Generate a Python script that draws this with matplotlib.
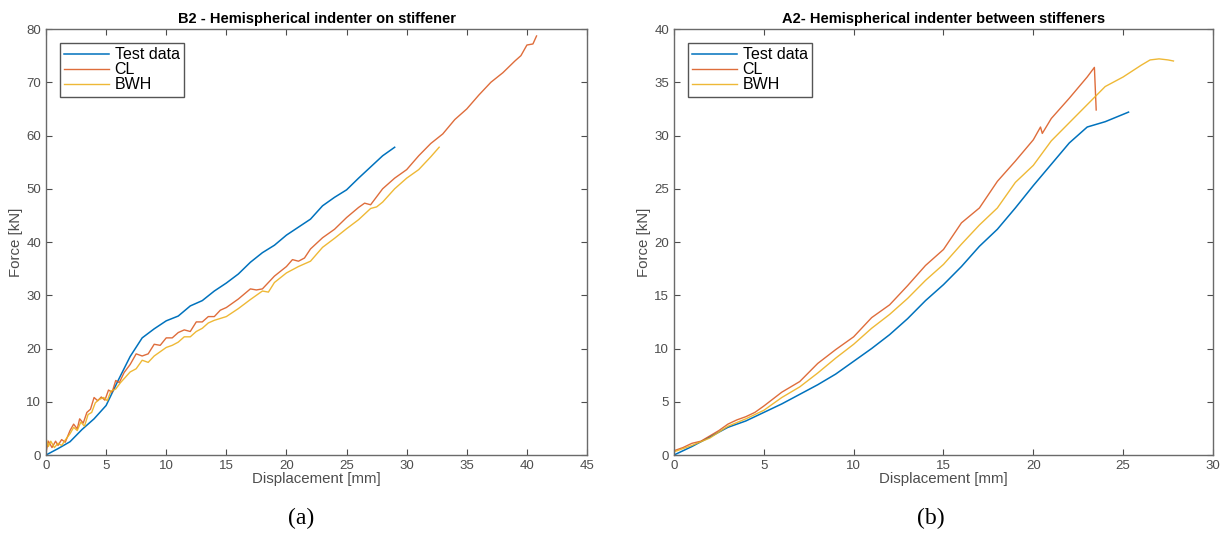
import numpy as np
import matplotlib.pyplot as plt

plt.rcParams['font.family'] = ['Liberation Sans', 'DejaVu Sans']

# B2 - indenter on stiffener
b2_test_x = [0, 1, 2, 3, 4, 5, 6, 7, 8, 9, 10, 11, 12, 13, 14, 15, 16, 17, 18, 19, 20,
             21, 22, 23, 24, 25, 26, 27, 28, 29]
b2_test_y = [0, 1.2, 2.5, 4.8, 6.8, 9.3, 14, 18.5, 22, 23.7, 25.2, 26.1, 28, 29, 30.8, 32.3,
             34, 36.2, 38, 39.4, 41.3, 42.8, 44.3, 46.8, 48.4, 49.8, 52, 54.1, 56.2, 57.8]

b2_cl_x = [0, 0.2, 0.5, 0.8, 1.0, 1.3, 1.6, 2.0, 2.3, 2.6, 2.8, 3.1, 3.4, 3.7, 4.0, 4.3,
           4.6, 4.9, 5.2, 5.5, 5.8, 6.1, 6.5, 7.0, 7.5, 8.0, 8.5, 9.0, 9.5, 10, 10.5, 11,
           11.5, 12, 12.5, 13, 13.5, 14, 14.5, 15, 16, 17, 17.5, 18, 19, 20, 20.5, 21,
           21.5, 22, 23, 24, 25, 26, 26.5, 27, 28, 29, 30, 31, 32, 33, 34, 35, 36, 37,
           38, 39, 39.5, 40, 40.5, 40.8]
b2_cl_y = [0.5, 2.6, 1.4, 2.6, 1.8, 2.9, 2.4, 4.6, 5.8, 4.9, 6.8, 6.0, 8.0, 8.6, 10.8, 10.2,
           10.9, 10.3, 12.2, 11.8, 14.0, 13.6, 15.5, 17.0, 19.0, 18.6, 19.0, 20.8, 20.6, 22.0,
           22.0, 23.0, 23.5, 23.2, 25.0, 25.0, 26.0, 26.0, 27.2, 27.7, 29.3, 31.2, 31.0, 31.2,
           33.6, 35.4, 36.7, 36.4, 37.0, 38.7, 40.8, 42.4, 44.6, 46.5, 47.3, 47.0, 50.0, 52.0,
           53.6, 56.2, 58.5, 60.3, 63.0, 65.0, 67.6, 70.0, 71.8, 74.0, 75.0, 77.0, 77.2, 78.7]

b2_bwh_x = [0, 0.2, 0.4, 0.7, 1.0, 1.3, 1.6, 2.0, 2.3, 2.6, 2.9, 3.2, 3.5, 3.8, 4.1, 4.4,
            4.8, 5.1, 5.4, 5.8, 6.2, 6.6, 7.0, 7.5, 8.0, 8.5, 9.0, 9.5, 10, 10.5, 11, 11.5,
            12, 12.5, 13, 13.5, 14, 15, 16, 17, 18, 18.5, 19, 20, 21, 22, 23, 24, 25, 26,
            27, 27.5, 28, 29, 30, 31, 32, 32.7]
b2_bwh_y = [3.2, 1.6, 2.6, 1.4, 2.2, 1.8, 2.8, 4.0, 5.2, 4.6, 6.2, 5.4, 7.6, 8.0, 9.8, 10.4,
            10.8, 10.2, 12.0, 12.4, 13.6, 14.6, 15.6, 16.2, 17.8, 17.4, 18.6, 19.4, 20.2,
            20.6, 21.2, 22.2, 22.2, 23.2, 23.8, 24.8, 25.3, 26.0, 27.5, 29.2, 30.8, 30.6,
            32.4, 34.2, 35.4, 36.4, 39.0, 40.7, 42.5, 44.2, 46.3, 46.6, 47.5, 50.0, 52.0,
            53.6, 56.0, 57.8]

# A2 - indenter between stiffeners
a2_test_x = [0, 1, 2, 3, 4, 5, 6, 7, 8, 9, 10, 11, 12, 13, 14, 15, 16, 17, 18, 19, 20,
             21, 22, 23, 24, 25.3]
a2_test_y = [0, 0.8, 1.7, 2.6, 3.2, 4.0, 4.8, 5.7, 6.6, 7.6, 8.8, 10.0, 11.3, 12.8, 14.5,
             16.0, 17.7, 19.6, 21.2, 23.2, 25.3, 27.3, 29.3, 30.8, 31.3, 32.2]

a2_cl_x = [0, 0.5, 1, 1.5, 2, 2.5, 3, 3.5, 4, 4.5, 5, 6, 7, 8, 9, 10, 11, 12, 13, 14, 15,
           16, 17, 18, 19, 20, 20.4, 20.5, 21, 22, 23, 23.4, 23.5]
a2_cl_y = [0.4, 0.7, 1.1, 1.3, 1.8, 2.3, 2.9, 3.3, 3.6, 4.0, 4.6, 5.9, 6.9, 8.6, 9.9, 11.1,
           12.9, 14.1, 15.9, 17.8, 19.3, 21.8, 23.2, 25.7, 27.6, 29.6, 30.8, 30.2, 31.6,
           33.5, 35.5, 36.4, 32.4]

a2_bwh_x = [0, 1, 2, 3, 4, 5, 6, 7, 8, 9, 10, 11, 12, 13, 14, 15, 16, 17, 18, 19, 20, 21,
            22, 23, 24, 25, 26, 26.5, 27, 27.5, 27.8]
a2_bwh_y = [0.3, 0.9, 1.6, 2.7, 3.4, 4.2, 5.4, 6.4, 7.7, 9.1, 10.4, 11.9, 13.2, 14.7, 16.4,
            17.9, 19.8, 21.6, 23.2, 25.6, 27.2, 29.5, 31.2, 32.9, 34.6, 35.5, 36.6, 37.1,
            37.2, 37.1, 37.0]

blue = '#0072BD'
red = '#D95319'
yellow = '#EDB120'
grey = '#4d4d4d'

fig = plt.figure(figsize=(12.23, 5.33), dpi=100)
ax1 = fig.add_axes([0.0376, 0.1463, 0.4424, 0.7992])
ax2 = fig.add_axes([0.5511, 0.1463, 0.4407, 0.7992])


def style(ax, title, xlim, ylim, xstep, ystep):
    ax.set_xlim(*xlim)
    ax.set_ylim(*ylim)
    ax.set_xticks(np.arange(xlim[0], xlim[1] + 0.1, xstep))
    ax.set_yticks(np.arange(ylim[0], ylim[1] + 0.1, ystep))
    ax.tick_params(direction='in', top=True, right=True, length=4, width=0.8,
                   colors=grey, labelsize=9.5, labelcolor=grey)
    for s in ax.spines.values():
        s.set_color('#6a6a6a')
        s.set_linewidth(1.0)
    ax.set_title(title, fontsize=10.5, fontweight='bold', pad=4)
    ax.set_xlabel('Displacement [mm]', fontsize=10.8, color=grey, labelpad=0)
    ax.set_ylabel('Force [kN]', fontsize=10.8, color=grey, labelpad=2)
    leg = ax.legend(loc='upper left', fontsize=11.5, handlelength=2.8, handletextpad=0.35,
                    borderpad=0.3, labelspacing=0.0, fancybox=False, framealpha=1,
                    edgecolor='#555555', borderaxespad=0.85)
    leg.get_frame().set_linewidth(1.0)


ax1.plot(b2_test_x, b2_test_y, color=blue, lw=1.1, label='Test data')
ax1.plot(b2_cl_x, b2_cl_y, color=red, lw=1.0, alpha=0.85, label='CL')
ax1.plot(b2_bwh_x, b2_bwh_y, color=yellow, lw=1.0, alpha=0.9, label='BWH')
style(ax1, 'B2 - Hemispherical indenter on stiffener', (0, 45), (0, 80), 5, 10)

ax2.plot(a2_test_x, a2_test_y, color=blue, lw=1.1, label='Test data')
ax2.plot(a2_cl_x, a2_cl_y, color=red, lw=1.0, alpha=0.85, label='CL')
ax2.plot(a2_bwh_x, a2_bwh_y, color=yellow, lw=1.0, alpha=0.9, label='BWH')
style(ax2, 'A2- Hemispherical indenter between stiffeners', (0, 30), (0, 40), 5, 5)

fig.text(0.246, 0.028, '(a)', fontsize=17, ha='center', va='center',
         family=['Liberation Serif', 'DejaVu Serif'])
fig.text(0.761, 0.028, '(b)', fontsize=17, ha='center', va='center',
         family=['Liberation Serif', 'DejaVu Serif'])

fig.savefig('out.png', dpi=100)
